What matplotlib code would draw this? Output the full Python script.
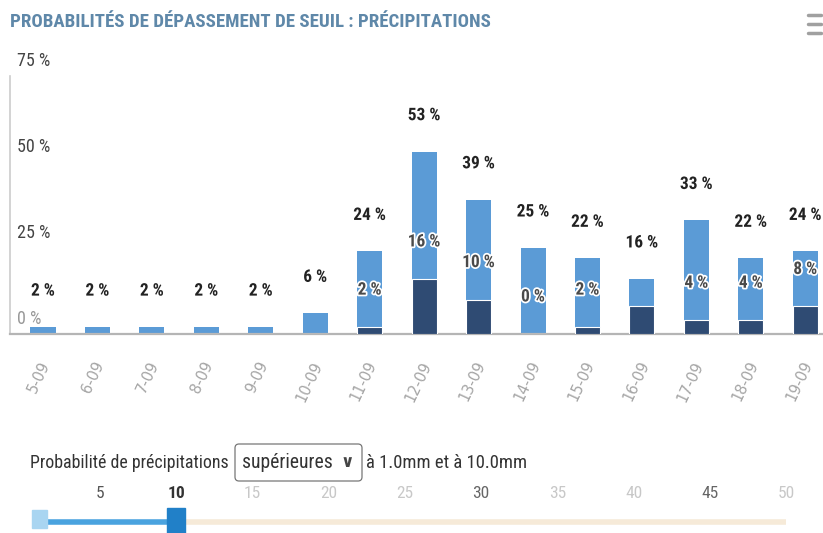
import matplotlib
matplotlib.use("Agg")
import matplotlib.pyplot as plt
import matplotlib.patheffects as pe
from matplotlib import font_manager as fm
from matplotlib.transforms import ScaledTranslation, blended_transform_factory
from matplotlib.patches import Rectangle, FancyBboxPatch

# ---------------- data ----------------
dates = ["5-09", "6-09", "7-09", "8-09", "9-09", "10-09", "11-09", "12-09",
         "13-09", "14-09", "15-09", "16-09", "17-09", "18-09", "19-09"]
prob_above_1mm = [2, 2, 2, 2, 2, 6, 24, 53, 39, 25, 22, 16, 33, 22, 24]
prob_above_10mm = [0, 0, 0, 0, 0, 0, 2, 16, 10, 0, 2, 8, 4, 4, 8]
y_ticks = [0, 25, 50, 75]
slider_ticks = [5, 10, 15, 20, 25, 30, 35, 40, 45, 50]
slider_range = [1, 10]
slider_max = 50

title = "PROBABILITÉS DE DÉPASSEMENT DE SEUIL : PRÉCIPITATIONS"

# ---------------- fonts ----------------
avail = {f.name for f in fm.fontManager.ttflist}
cond = next((n for n in ["Roboto Condensed", "Liberation Sans Narrow",
                         "Open Sans Condensed", "DejaVu Sans Condensed",
                         "Arial Narrow"] if n in avail), "DejaVu Sans")
COND = dict(family=[cond, "DejaVu Sans"], stretch="condensed")

LIGHT = "#5b9bd6"
DARK = "#2f4b73"

W, H = 823, 533
fig = plt.figure(figsize=(W / 100, H / 100), dpi=100)

# ---------------- main chart ----------------
ax_left, ax_right, ax_top, ax_bot = 10, 823, 76, 334
ax = fig.add_axes([ax_left / W, (H - ax_bot) / H, (ax_right - ax_left) / W,
                   (ax_bot - ax_top) / H])
x = list(range(len(dates)))
ax.bar(x, prob_above_1mm, width=0.46, color=LIGHT, zorder=2)
ax.bar(x, prob_above_10mm, width=0.46, color=DARK, edgecolor="white",
       linewidth=0.8, zorder=3)
ax.set_xlim(-0.606, 14.325)
ax.set_ylim(0, 75)
for s in ["top", "right"]:
    ax.spines[s].set_visible(False)
ax.spines["left"].set_color("#cccccc")
ax.spines["left"].set_linewidth(1.2)
ax.spines["bottom"].set_color("#b5b5b5")
ax.spines["bottom"].set_linewidth(1.6)
ax.set_xticks([])
ax.set_yticks([])

# y labels (drawn above their level, inside plot)
btr = blended_transform_factory(ax.transAxes, ax.transData)
for v in y_ticks:
    ax.text(0, v, f"{v} %", transform=btr + ScaledTranslation(0.07, 0.15, fig.dpi_scale_trans),
            ha="left", va="center", fontsize=13,
            color="#999999" if v == 0 else "#444444", **COND)

# x labels rotated
for i, d in zip(x, dates):
    ax.text(i, 0, d, transform=ax.transData + ScaledTranslation(0.03, -0.28, fig.dpi_scale_trans),
            rotation=65, rotation_mode="anchor", ha="right", va="center",
            fontsize=10.5, color="#a5a5a5")

outline = [pe.withStroke(linewidth=2.5, foreground="white")]
px_per_unit = (ax_bot - ax_top) / 75
for i, t, d in zip(x, prob_above_1mm, prob_above_10mm):
    ax.annotate(f"{t} %", (i, t), xytext=(0, 36), textcoords="offset pixels",
                ha="center", va="center", fontsize=12.5, fontweight="heavy",
                color="#222222", path_effects=outline, annotation_clip=False, **COND)
    if (t - d) * px_per_unit >= 30:
        ax.annotate(f"{d} %", (i, d), xytext=(0, 37), textcoords="offset pixels",
                    ha="center", va="center", fontsize=12.5, fontweight="heavy",
                    color="#4a4a4a", path_effects=outline, annotation_clip=False,
                    zorder=5, **COND)

# ---------------- overlay (pixel coords) ----------------
ov = fig.add_axes([0, 0, 1, 1], zorder=-1)
ov.set_xlim(0, W)
ov.set_ylim(H, 0)
ov.axis("off")

t_title = ov.text(10, 22, title, ha="left", va="center", fontsize=15,
                  fontweight="heavy", color="#5f88a9", **COND)
for yy in (15, 24, 33):
    ov.plot([808, 821], [yy, yy], color="#a0a0a0", lw=2.5, solid_capstyle="round")

t_prob = ov.text(30, 463, "Probabilité de précipitations", ha="left", va="center",
                 fontsize=11, color="#333333", **COND)
box = FancyBboxPatch((235, 444), 127, 37, boxstyle="round,pad=0,rounding_size=4",
                     fill=False, edgecolor="#777777", linewidth=0.9)
ov.add_patch(box)
t_sup = ov.text(242, 463, "supérieures", ha="left", va="center", fontsize=12,
                color="#333333", **COND)
ov.text(347, 462, "∨", ha="center", va="center", fontsize=12, fontweight="bold",
        color="#444444", family="DejaVu Sans")
t_mm = ov.text(366, 463, "à 1.0mm et à 10.0mm", ha="left", va="center",
               fontsize=11, color="#333333", **COND)

# ---------------- slider ----------------
spx = 15.25  # pixels per unit
def v_of(px):
    return 5 + (px - 100) / spx
sl = fig.add_axes([0, 0, 1, 93 / H], zorder=-1)
sl.set_xlim(v_of(0), v_of(W))
sl.set_ylim(H, 440)
sl.axis("off")
sl.plot([slider_range[1], slider_max], [522, 522], color="#f6ead8", lw=4,
        solid_capstyle="butt", zorder=1)
sl.plot(slider_range, [522, 522], color="#4aa3df", lw=4, solid_capstyle="butt", zorder=2)
sl.add_patch(Rectangle((slider_range[0] - 7.5 / spx, 510), 15 / spx, 18,
                       color="#a9d5f1", zorder=3))
sl.add_patch(Rectangle((slider_range[1] - 9 / spx, 508), 18 / spx, 30,
                       color="#2180c8", zorder=3))
tick_colors = {5: "#555555", 10: "#333333", 30: "#666666", 45: "#666666"}
for v in slider_ticks:
    sl.text(v, 493, str(v), ha="center", va="center", fontsize=12.5,
            fontweight="bold" if v == slider_range[1] else "normal",
            color=tick_colors.get(v, "#c8c8c8"), **COND)

# fit text widths to reference
fig.canvas.draw()
r = fig.canvas.get_renderer()
for tobj, target in [(t_title, 480), (t_prob, 198), (t_sup, 90), (t_mm, 160)]:
    w = tobj.get_window_extent(r).width
    tobj.set_fontsize(tobj.get_fontsize() * target / w)

fig.savefig("out.png", dpi=100)
